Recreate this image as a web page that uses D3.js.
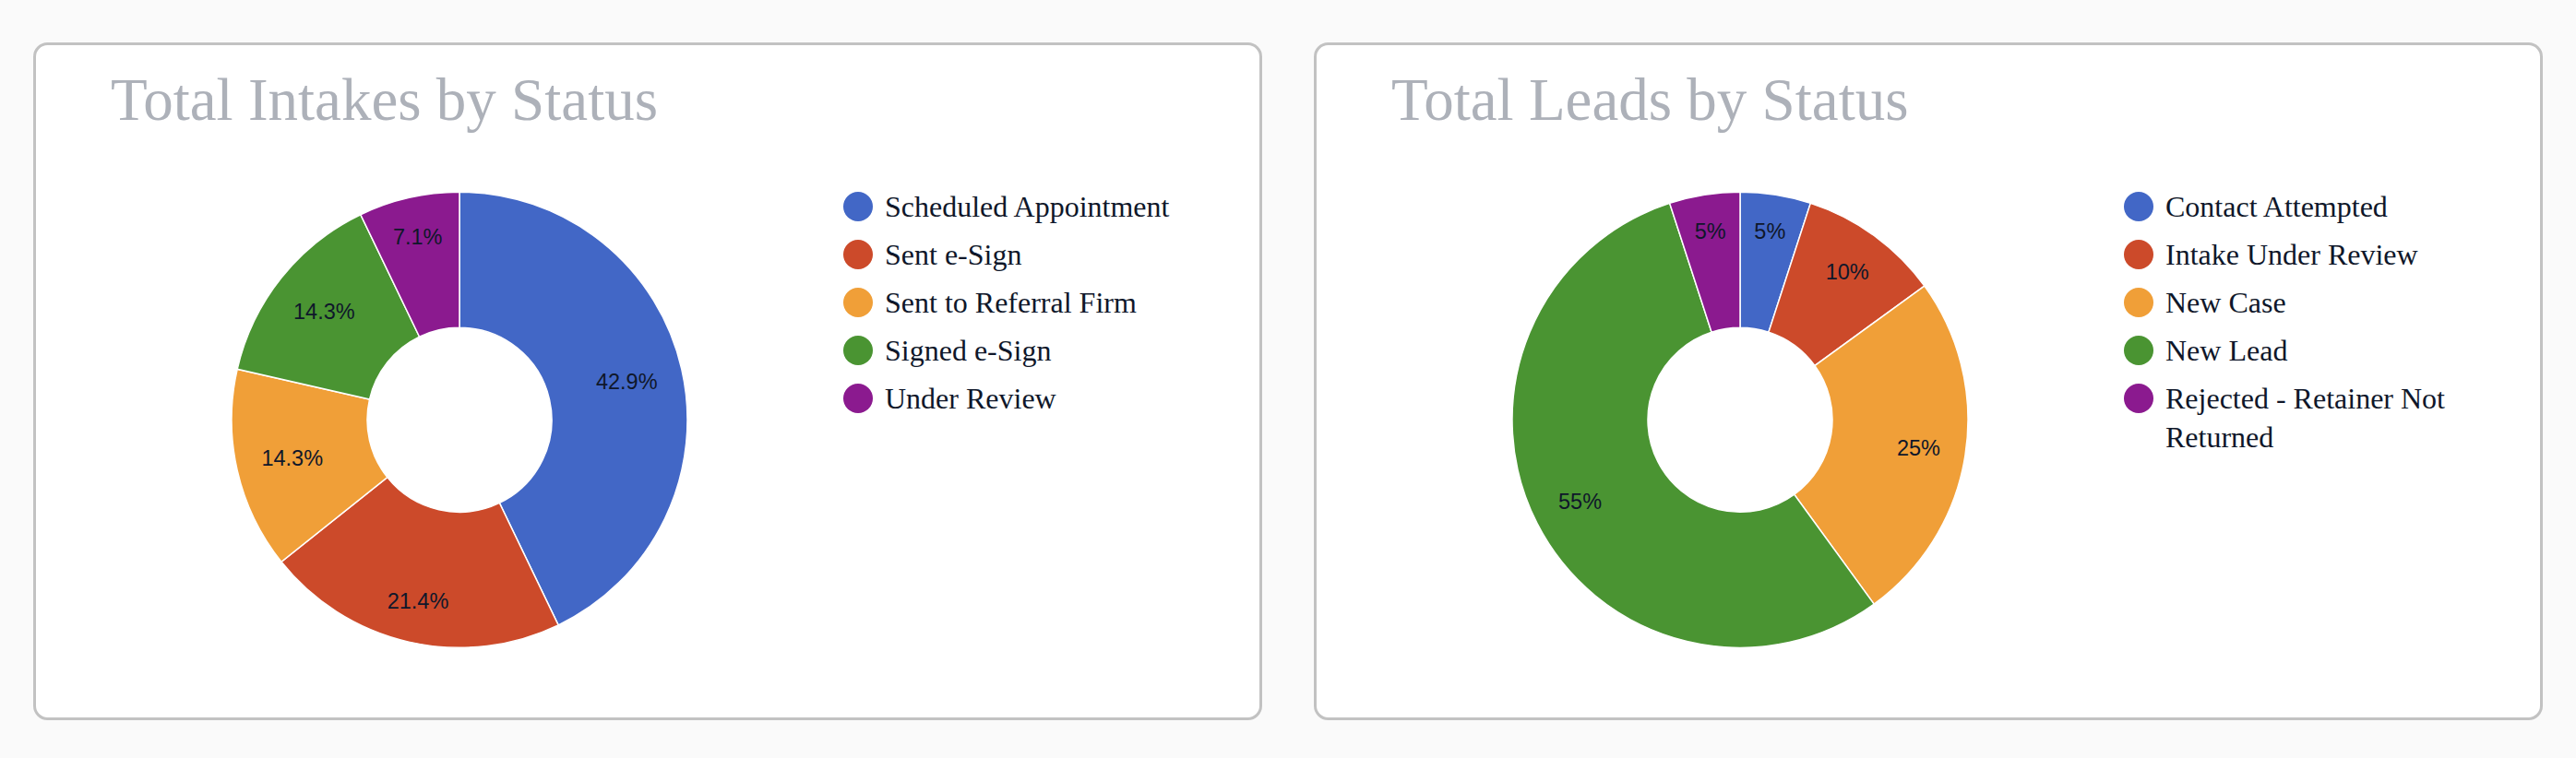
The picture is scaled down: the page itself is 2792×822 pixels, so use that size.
<!DOCTYPE html>
<html>
<head>
<meta charset="utf-8">
<script src="https://cdn.jsdelivr.net/npm/d3@7"></script>
<style>
  html, body { margin: 0; padding: 0; background: #fafafa; }
  svg { display: block; }
</style>
</head>
<body>
<svg id="chart" width="2792" height="822"></svg>
<script>
// ---- data ----
const intakeTitle = "Total Intakes by Status";
const intakeCategories = ["Scheduled Appointment", "Sent e-Sign", "Sent to Referral Firm", "Signed e-Sign", "Under Review"];
const intakeValues = [6, 3, 2, 2, 1];

const leadTitle = "Total Leads by Status";
const leadCategories = ["Contact Attempted", "Intake Under Review", "New Case", "New Lead", "Rejected - Retainer Not Returned"];
const leadValues = [1, 2, 5, 11, 1];

const sliceColors = ["#4267c6", "#cc4a2a", "#f09f38", "#4a9432", "#8b1a8f"];

// ---- layout ----
const W = 2792, H = 822;
const cards = [
  { x: 36, title: intakeTitle, cats: intakeCategories, vals: intakeValues },
  { x: 1424, title: leadTitle, cats: leadCategories, vals: leadValues }
];
const cardY = 46, cardW = 1332, cardH = 735;
const outerR = 247, innerR = 100;
const textColor = "#0f172a";
const fmt = d3.format(".1~%");

const svg = d3.select("#chart");

cards.forEach(card => {
  const g = svg.append("g").attr("transform", `translate(${card.x},${cardY})`);

  g.append("rect")
    .attr("x", 1.5).attr("y", 1.5)
    .attr("width", cardW - 3).attr("height", cardH - 3)
    .attr("rx", 14).attr("ry", 14)
    .attr("fill", "#ffffff")
    .attr("stroke", "#c2c2c2")
    .attr("stroke-width", 3);

  g.append("text")
    .attr("x", 84).attr("y", 84)
    .attr("font-family", "'Liberation Serif', 'Times New Roman', serif")
    .attr("font-size", 65)
    .attr("fill", "#adb1b9")
    .text(card.title);

  const total = d3.sum(card.vals);
  const color = d3.scaleOrdinal().domain(card.cats).range(sliceColors);
  const pie = d3.pie().sort(null).value(d => d.v);
  const arcs = pie(card.cats.map((c, i) => ({ c, v: card.vals[i] })));
  const arc = d3.arc().innerRadius(innerR).outerRadius(outerR);

  const pg = g.append("g").attr("transform", `translate(462,${455.3 - cardY})`);
  pg.selectAll("path").data(arcs).join("path")
    .attr("d", arc)
    .attr("fill", d => color(d.data.c))
    .attr("stroke", "#ffffff")
    .attr("stroke-width", 1.5);

  // labels: outer edge of text box kept at a fixed radius inside the ring
  const edgeR = outerR - 26;
  const fs = 23.5;
  pg.selectAll("text.lbl").data(arcs).join("text")
    .attr("class", "lbl")
    .attr("font-family", "'Liberation Sans', Arial, sans-serif")
    .attr("font-size", fs)
    .attr("fill", textColor)
    .attr("text-anchor", "middle")
    .attr("dominant-baseline", "central")
    .text(d => fmt(d.data.v / total))
    .each(function(d) {
      const w = this.getComputedTextLength();
      const a = (d.startAngle + d.endAngle) / 2;
      const s = Math.sin(a), c = Math.cos(a);
      const proj = (w / 2) * Math.abs(s) + (fs / 2) * Math.abs(c);
      const r = edgeR - proj;
      d3.select(this).attr("x", r * s).attr("y", -r * c);
    });

  // legend
  const lg = g.append("g").attr("transform", `translate(894,${224 - cardY})`);
  const maxW = 400;
  lg.selectAll("g.item").data(card.cats).join("g")
    .attr("class", "item")
    .attr("transform", (d, i) => `translate(0,${i * 52})`)
    .each(function(d) {
      const it = d3.select(this);
      it.append("circle").attr("r", 16).attr("fill", color(d));
      const t = it.append("text")
        .attr("x", 29).attr("y", 11)
        .attr("font-family", "'Liberation Serif', 'Times New Roman', serif")
        .attr("font-size", 32)
        .attr("fill", textColor);
      const words = d.split(" ");
      let line = [];
      let tspan = t.append("tspan").attr("x", 29).attr("dy", 0);
      words.forEach(wd => {
        line.push(wd);
        tspan.text(line.join(" "));
        if (tspan.node().getComputedTextLength() > maxW && line.length > 1) {
          line.pop();
          tspan.text(line.join(" "));
          line = [wd];
          tspan = t.append("tspan").attr("x", 29).attr("dy", 42).text(wd);
        }
      });
    });
});
</script>
</body>
</html>
